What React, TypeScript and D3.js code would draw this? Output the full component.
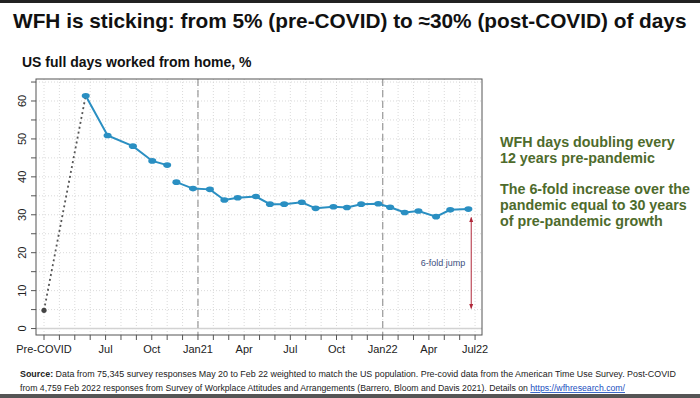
import * as d3 from "d3";
import * as React from "react";

// survey waves (approximate field dates) and share of full paid days worked from home, %
const waveDates = [
    "2020-05-23", "2020-07-05", "2020-08-25", "2020-10-02", "2020-11-01",
    "2020-11-19", "2020-12-22", "2021-01-25", "2021-02-21", "2021-03-19",
    "2021-04-24", "2021-05-22", "2021-06-19", "2021-07-24", "2021-08-21",
    "2021-09-25", "2021-10-22", "2021-11-19", "2021-12-23", "2022-01-16",
    "2022-02-13", "2022-03-11", "2022-04-15", "2022-05-13", "2022-06-18",
];
const wfhShare = [
    61.4, 50.9, 48.1, 44.2, 43.1,
    38.6, 36.9, 36.7, 33.9, 34.5,
    34.8, 32.8, 32.8, 33.3, 31.7,
    32.1, 31.9, 32.8, 32.9, 32.0,
    30.6, 31.0, 29.5, 31.3, 31.5,
];
// the line is broken after this wave
const breakAfterIndex = 4;

const preCovidShare = 4.8;

// month ticks: index 0 = Pre-COVID (Mar 2020) ... 28 = Jul 2022
const monthTicks = d3.range(0, 29);
const tickLabels: Record<number, string> = {
    0: "Pre-COVID", 4: "Jul", 7: "Oct", 10: "Jan21", 13: "Apr",
    16: "Jul", 19: "Oct", 22: "Jan22", 25: "Apr", 28: "Jul22",
};
const yearBreaks = [10, 22];
const yTicks = d3.range(0, 66, 5);
const yLabels = [0, 10, 20, 30, 40, 50, 60];

const jumpFrom = 29.3;
const jumpTo = 5.3;
const jumpAt = 27.75;

const noteLines1 = ["WFH days doubling every", "12 years pre-pandemic"];
const noteLines2 = ["The 6-fold increase over the", "pandemic equal to 30 years", "of pre-pandemic growth"];

function monthPos(s: string): number {
    const d = new Date(s + "T00:00:00");
    const days = new Date(d.getFullYear(), d.getMonth() + 1, 0).getDate();
    return (d.getFullYear() - 2020) * 12 + d.getMonth() - 2 + (d.getDate() - 1) / days;
}

export default function App(): JSX.Element {
    const x = d3.scaleLinear().domain([-0.52, 28.45]).range([36, 482]);
    const y = d3.scaleLinear().domain([-1.7, 65.8]).range([335, 79]);

    const pts = waveDates.map((d, i) => ({ m: monthPos(d), v: wfhShare[i] }));
    const line = d3.line<{ m: number; v: number }>().x(d => x(d.m)).y(d => y(d.v));
    const seg1 = pts.slice(0, breakAfterIndex + 1);
    const seg2 = pts.slice(breakAfterIndex + 1);

    const blue = "#2a8fc2";
    const green = "#4e6b2c";
    const font = "Liberation Sans, Arial, sans-serif";
    const [x0, x1] = x.range();
    const [yb, yt] = y.range();

    return (
        <div style={{ position: "fixed", left: 0, top: 0 }}>
            <svg width={700} height={398} style={{ display: "block", background: "#fff" }} fontFamily={font}>
                <rect x={0} y={0} width={700} height={3} fill="#222" />
                <rect x={0} y={394} width={700} height={4} fill="#555" />

                <text x={13} y={28} fontSize={20.8} fontWeight="bold" fill="#111">
                    WFH is sticking: from 5% (pre-COVID) to ≈30% (post-COVID) of days
                </text>
                <text x={22} y={67} fontSize={14} fontWeight="bold" fill="#111">
                    US full days worked from home, %
                </text>

                {/* grid */}
                {monthTicks.map(m => (
                    <line key={"vg" + m} x1={x(m)} x2={x(m)} y1={yt} y2={yb}
                        stroke="#d0d0d0" strokeWidth={0.8} strokeDasharray="1,2" />
                ))}
                {yTicks.map(v => (
                    <line key={"hg" + v} x1={x0} x2={x1} y1={y(v)} y2={y(v)}
                        stroke="#d0d0d0" strokeWidth={0.8} strokeDasharray="1,2" />
                ))}
                <line x1={x0} x2={x1} y1={y(0)} y2={y(0)} stroke="#d2d2d2" strokeWidth={1.5} />
                {yearBreaks.map(m => (
                    <line key={"yb" + m} x1={x(m)} x2={x(m)} y1={yt} y2={yb}
                        stroke="#a0a0a0" strokeWidth={1.3} strokeDasharray="7,4" />
                ))}

                {/* frame */}
                <rect x={x0} y={yt} width={x1 - x0} height={yb - yt} fill="none" stroke="#555" strokeWidth={1} />

                {/* x axis */}
                {monthTicks.map(m => (
                    <line key={"xt" + m} x1={x(m)} x2={x(m)} y1={yb} y2={yb + 5} stroke="#555" strokeWidth={1} />
                ))}
                {Object.entries(tickLabels).map(([m, lab]) => (
                    <text key={"xl" + m} x={x(+m)} y={353} fontSize={11} textAnchor="middle" fill="#222">
                        {lab}
                    </text>
                ))}

                {/* y axis */}
                {yTicks.map(v => (
                    <line key={"yt" + v} x1={x0 - 5} x2={x0} y1={y(v)} y2={y(v)} stroke="#555" strokeWidth={1} />
                ))}
                {yLabels.map(v => (
                    <text key={"yl" + v} transform={`translate(26,${y(v)}) rotate(-90)`}
                        fontSize={11} textAnchor="middle" fill="#222">
                        {v}
                    </text>
                ))}

                {/* pre-covid link */}
                <line x1={x(0)} y1={y(preCovidShare)} x2={x(pts[0].m)} y2={y(pts[0].v)}
                    stroke="#555" strokeWidth={1.8} strokeDasharray="2,3" />
                <circle cx={x(0)} cy={y(preCovidShare)} r={2.6} fill="#444" />

                {/* survey series */}
                <path d={line(seg1) ?? ""} fill="none" stroke={blue} strokeWidth={2} />
                <path d={line(seg2) ?? ""} fill="none" stroke={blue} strokeWidth={2} />
                {pts.map((p, i) => (
                    <ellipse key={"p" + i} cx={x(p.m)} cy={y(p.v)} rx={4} ry={2.8} fill={blue} />
                ))}

                {/* 6-fold jump */}
                <defs>
                    <marker id="ah" viewBox="0 0 10 10" refX={9} refY={5} markerWidth={5} markerHeight={5}
                        orient="auto-start-reverse">
                        <path d="M0,1 L10,5 L0,9 z" fill="#b0283a" />
                    </marker>
                </defs>
                <line x1={x(jumpAt)} x2={x(jumpAt)} y1={y(jumpFrom)} y2={y(jumpTo)}
                    stroke="#b0283a" strokeWidth={1}
                    markerStart="url(#ah)" markerEnd="url(#ah)" />
                <text x={443} y={266} fontSize={9} textAnchor="middle" fill="#3d4f80">6-fold jump</text>

                {/* notes */}
                {noteLines1.map((t, i) => (
                    <text key={"n1" + i} x={500} y={147 + i * 16} fontSize={14.3} fontWeight="bold" fill={green}>{t}</text>
                ))}
                {noteLines2.map((t, i) => (
                    <text key={"n2" + i} x={500} y={194 + i * 16} fontSize={14.3} fontWeight="bold" fill={green}>{t}</text>
                ))}

                {/* source */}
                <text x={20} y={377} fontSize={8.5} fill="#222" textLength={656} lengthAdjust="spacingAndGlyphs">
                    <tspan fontWeight="bold">Source:</tspan> Data from 75,345 survey responses May 20 to Feb 22 weighted to match the US population. Pre-covid data from the American Time Use Survey. Post-COVID
                </text>
                <text x={20} y={391} fontSize={8.5} fill="#222" textLength={605} lengthAdjust="spacingAndGlyphs">
                    from 4,759 Feb 2022 responses from Survey of Workplace Attitudes and Arrangements (Barrero, Bloom and Davis 2021). Details on <tspan fill="#1a4fc0" textDecoration="underline">https://wfhresearch.com/</tspan>
                </text>
            </svg>
        </div>
    );
}
